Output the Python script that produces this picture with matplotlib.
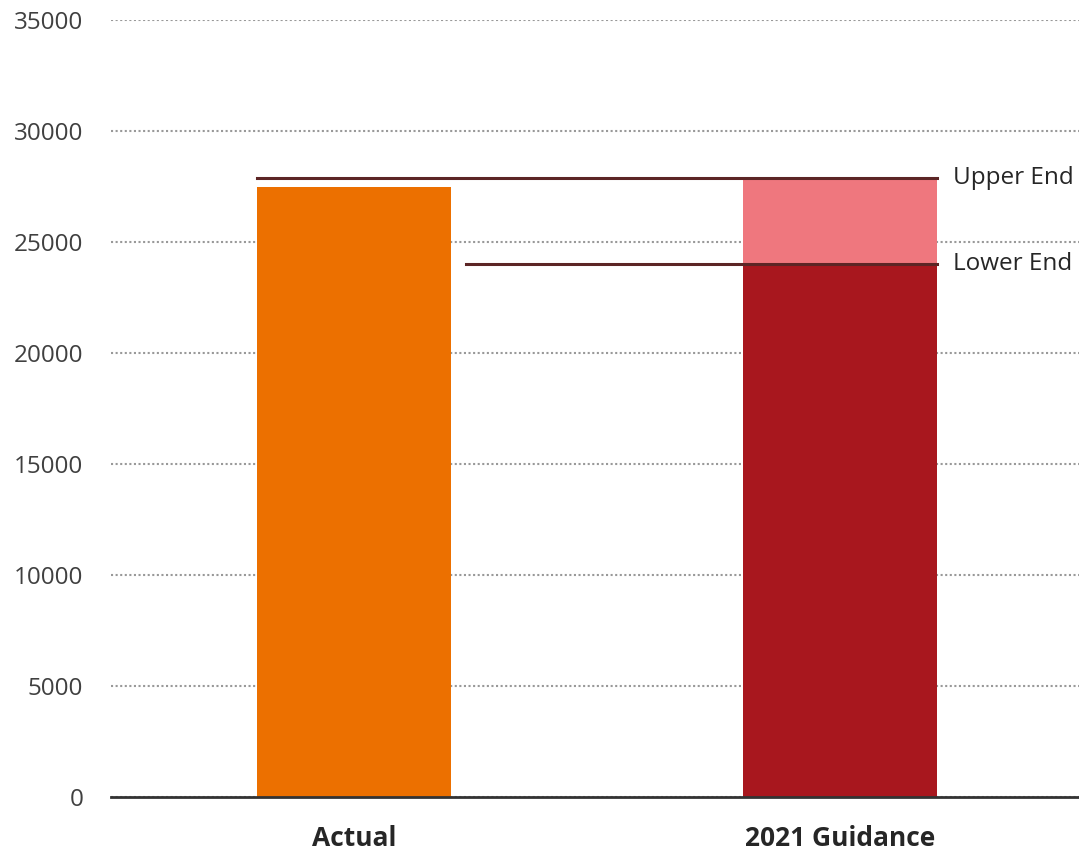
import matplotlib.pyplot as plt

categories = ["Actual", "2021 Guidance"]
actual = 27500
guidance_low = 24000
guidance_high = 27900
yticks = [0, 5000, 10000, 15000, 20000, 25000, 30000, 35000]

plt.rcParams["font.family"] = ["Open Sans", "DejaVu Sans"]

fig = plt.figure(figsize=(10.79, 8.52), dpi=100)
ax = fig.add_axes([0.1029, 0.0646, 0.8971, 0.9119])

w = 0.4
ax.bar(0, actual, width=w, color="#EC7000", zorder=2)
ax.bar(1, guidance_low, width=w, color="#A8171E", zorder=2)
ax.bar(1, guidance_high - guidance_low, bottom=guidance_low, width=w,
       color="#EF777E", zorder=2)

# range markers
ax.plot([-w / 2, 1 + w / 2], [guidance_high, guidance_high], color="#5C2525", lw=2.2, zorder=3)
ax.plot([0.23, 1 + w / 2], [guidance_low, guidance_low], color="#5C2525", lw=2.2, zorder=3)
ax.text(1.233, guidance_high, "Upper End", va="center", ha="left", fontsize=17.5, color="#262626")
ax.text(1.233, guidance_low, "Lower End", va="center", ha="left", fontsize=17.5, color="#262626")

ax.set_xlim(-0.5, 1.492)
ax.set_ylim(0, 35000)
ax.set_yticks(yticks)
ax.set_yticklabels([str(v) for v in yticks])
ax.set_xticks([0, 1])
ax.set_xticklabels(categories, fontsize=19, fontweight="bold", color="#262626")
ax.tick_params(axis="y", length=0, pad=20, labelsize=17.5, labelcolor="#404040")
ax.tick_params(axis="x", length=0, pad=20)

ax.grid(axis="y", linestyle=(0, (1, 1.2)), color="#999999", lw=1.5, zorder=0)
for s in ["left", "right", "top"]:
    ax.spines[s].set_visible(False)
ax.spines["bottom"].set_color("#333333")
ax.spines["bottom"].set_linewidth(2)
ax.spines["bottom"].set_zorder(4)

plt.savefig("out.png", dpi=100)
